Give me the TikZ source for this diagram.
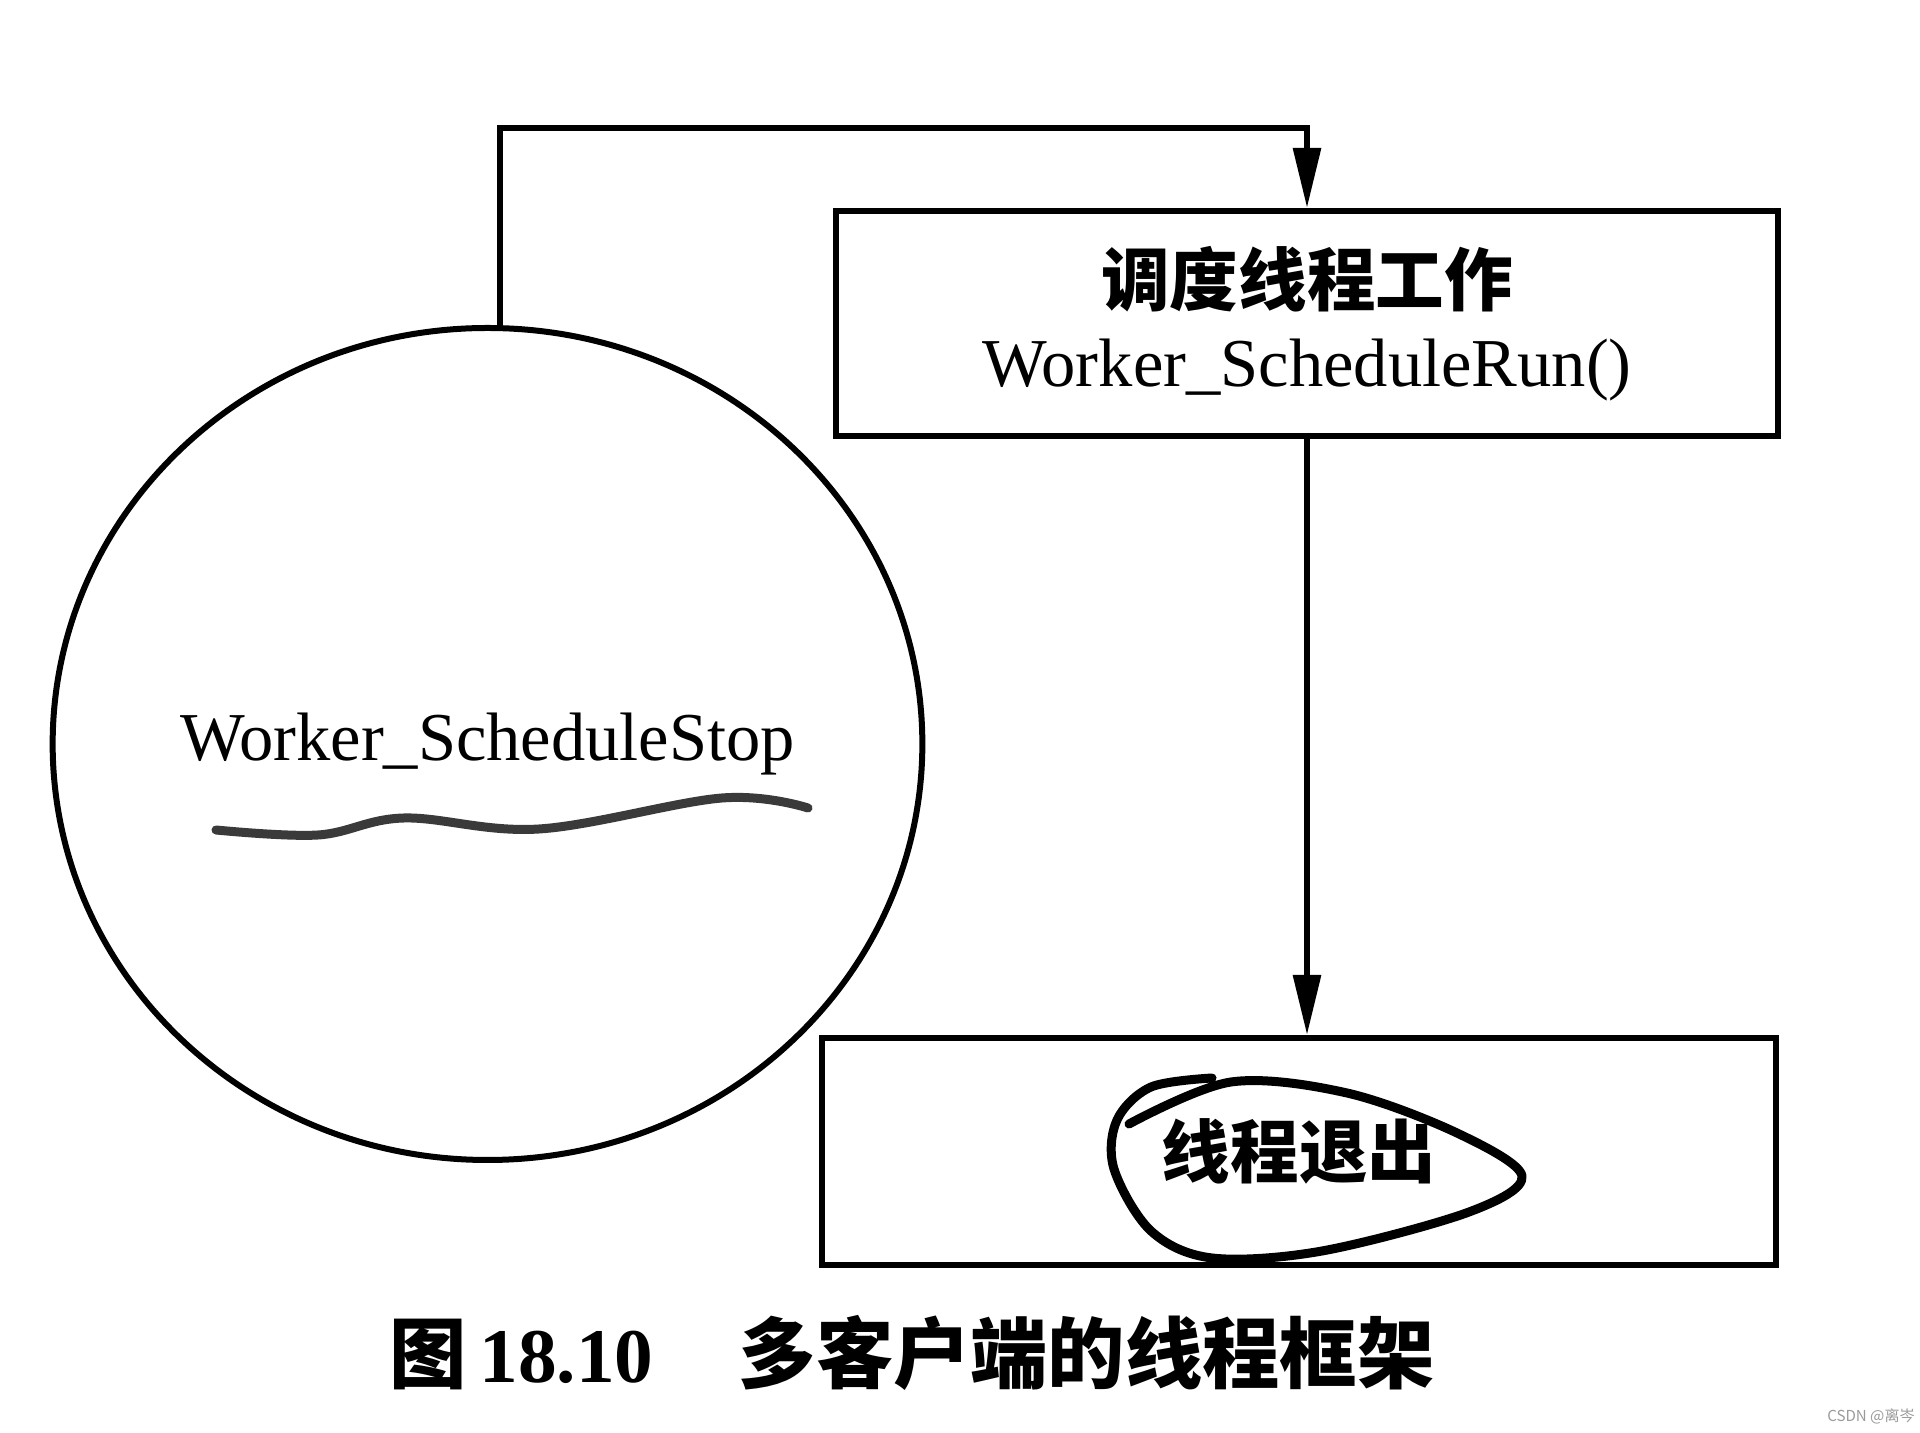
\documentclass[tikz,border=0pt]{standalone}
\usepackage{fontspec}
\setmainfont{Liberation Serif}
\newfontfamily\cjk{Noto Sans CJK SC}
\usetikzlibrary{arrows.meta,calc,positioning,shapes.geometric}
\definecolor{pencilgray}{HTML}{3A3A3A}
\definecolor{markgray}{HTML}{9A9A9A}

\begin{document}
\begin{tikzpicture}[font=\fontsize{19.5}{23}\selectfont, line width=0.6mm]
  \tikzset{box/.style={draw, align=center, inner sep=0pt},
    flow/.style={-{Triangle[length=6mm,width=2.7mm]}},
    hand/.style={line width=0.9mm, line cap=round, line join=round}}
  \useasboundingbox (0,0) rectangle (19.2,14.32);
  \node[draw, ellipse, minimum width=8.64cm, minimum height=8.32cm, inner sep=0pt] (stop) at (4.875,6.88) {Worker\_ScheduleStop};
  \node[box, minimum width=9.42cm, minimum height=2.25cm] (run) at (13.07,11.085) {{\cjk\bfseries 调度线程工作}\\Worker\_ScheduleRun()};
  \node[box, minimum width=9.54cm, minimum height=2.27cm] (quit) at (12.99,2.805) {{\cjk\bfseries 线程退出}};
  \coordinate (bend) at (5.0,13.04);
  \draw[flow] (stop.north -| bend) -- (bend) -| (run.north);
  \draw[flow] (run.south) -- (run.south |- quit.north);
  \draw[hand, pencilgray] plot[smooth, tension=0.6] coordinates {(2.16,6.02) (3.18,5.97) (4.04,6.14) (5.39,6.03) (7.22,6.34) (8.08,6.24)};
  \draw[hand] plot[smooth, tension=0.55] coordinates {(11.29,3.08) (12.31,3.50) (13.47,3.39) (14.57,2.99) (15.22,2.56) (14.69,2.20) (13.22,1.81) (12.12,1.74) (11.51,2.01) (11.14,2.63) (11.17,3.12) (11.51,3.45) (12.12,3.54)};
  \node[font=\fontsize{22}{26}\selectfont\bfseries] (caption) at (9.12,0.79) {{\cjk 图}\,18.10\hspace{1.1em}{\cjk 多客户端的线程框架}};
  \node[text=markgray, font=\fontsize{4.3}{5}\selectfont\cjk] (mark) at (18.71,0.16) {CSDN @离岑};
\end{tikzpicture}
\end{document}
